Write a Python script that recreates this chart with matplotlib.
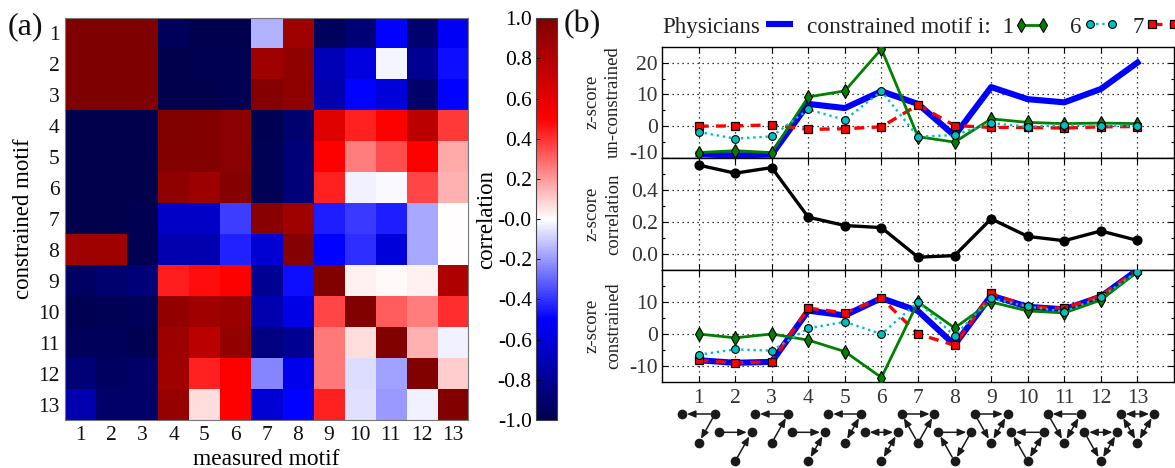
import numpy as np
import matplotlib
matplotlib.use("Agg")
import matplotlib.pyplot as plt
from matplotlib.lines import Line2D
from matplotlib.patches import FancyArrowPatch
from matplotlib.ticker import FixedLocator
from matplotlib.legend_handler import HandlerLine2D
from matplotlib.transforms import ScaledTranslation

plt.rcParams['font.family'] = ['Liberation Serif', 'DejaVu Serif']
plt.rcParams['axes.unicode_minus'] = False

W, H = 1175, 468

motifs = list(range(1, 14))

corr = [
    [1, 1, 1, -.96, -.99, -.99, -.15, .87, -.95, -.88, -.5, -.9, -.52],
    [1, 1, 1, -1, -.98, -.98, .87, .93, -.7, -.58, -.02, -.8, -.47],
    [1, 1, 1, -1, -1, -.98, .97, .93, -.72, -.5, -.6, -.92, -.5],
    [-1, -1, -1, .99, .98, .95, -.98, -.9, .62, .43, .5, .76, .39],
    [-1, -1, -1, .98, .98, .95, -.97, -.87, .5, .25, .35, .5, .17],
    [-1, -1, -1, .93, .88, .97, -.97, -.87, .43, -.03, -.01, .36, .15],
    [-1, -1, -.98, -.65, -.65, -.38, .96, .87, -.44, -.39, -.44, -.17, 0],
    [.87, .87, -.98, -.72, -.72, -.43, -.62, .97, -.5, -.41, -.6, -.17, 0],
    [-.93, -.9, -.87, .44, .47, .5, -.8, -.47, .99, .03, .01, .03, .81],
    [-.98, -.97, -.96, .92, .86, .89, -.72, -.57, .36, .99, .32, .25, .41],
    [-.96, -.96, -.98, .88, .76, .92, -.85, -.8, .26, .07, .99, .15, -.03],
    [-.88, -.94, -.92, .87, .43, .5, -.24, -.55, .26, -.07, -.18, .99, .1],
    [-.72, -.92, -.92, .9, .07, .5, -.62, -.5, .43, -.06, -.2, -.03, .98],
]

top_physicians = [-8.8, -9.2, -8.9, 7, 5.7, 11, 7, -3, 12.3, 8.5, 7.5, 11.7, 20]
top_motif1 = [-8.3, -7.7, -8.3, 9.2, 11.1, 24.3, -3.3, -5, 2.3, 1.2, .8, 1, .8]
top_motif6 = [-1.8, -3.9, -3.2, 5.3, 2, 11, -3.3, -2.8, 1, -.2, .4, .2, .1]
top_motif7 = [0, .1, .4, -1, -.8, -.2, 6.7, .2, -.4, -.4, -.6, -.2, -.1]

mid_corr = [.556, .505, .54, .23, .178, .165, -.02, -.01, .22, .11, .083, .144, .085]

bot_physicians = [-8.2, -9, -8.7, 7.3, 5.8, 11.2, 7.2, -3.4, 12, 8.5, 7.7, 11.7, 20]
bot_motif1 = [0, -1.2, 0, -1.9, -5.5, -13.6, 10, 1.9, 10, 7.2, 6.6, 10.6, 19.5]
bot_motif6 = [-6.5, -4.8, -5.2, 1.8, 3.8, 0, 10, -.6, 11.2, 8.6, 7, 11.5, 19.5]
bot_motif7 = [-8.2, -9, -8.7, 8.1, 6.6, 11.2, 0, -3.5, 12.7, 8.5, 8, 12, 20]

# motif edges: A top-left, B top-right, C bottom; '>' one way, '<>' both ways
motif_edges = {
    1: [('B', 'A', '>'), ('B', 'C', '>')],
    2: [('A', 'B', '>'), ('C', 'B', '>')],
    3: [('B', 'A', '>'), ('C', 'B', '>')],
    4: [('A', 'B', '>'), ('B', 'C', '<>')],
    5: [('B', 'A', '>'), ('B', 'C', '<>')],
    6: [('A', 'B', '<>'), ('B', 'C', '<>')],
    7: [('A', 'B', '>'), ('C', 'A', '>'), ('C', 'B', '>')],
    8: [('A', 'B', '>'), ('C', 'A', '>'), ('B', 'C', '>')],
    9: [('A', 'B', '>'), ('A', 'C', '>'), ('B', 'C', '<>')],
    10: [('B', 'A', '>'), ('C', 'A', '>'), ('B', 'C', '<>')],
    11: [('B', 'A', '>'), ('A', 'C', '>'), ('B', 'C', '<>')],
    12: [('A', 'B', '<>'), ('A', 'C', '>'), ('B', 'C', '<>')],
    13: [('A', 'B', '<>'), ('A', 'C', '<>'), ('B', 'C', '<>')],
}


def box(x0, y0, x1, y1):
    return [x0 / W, 1 - y1 / H, (x1 - x0) / W, (y1 - y0) / H]


fig = plt.figure(figsize=(W / 100, H / 100), dpi=100)

# ---------- (a) heat map ----------
ax = fig.add_axes(box(65, 17.7, 468, 420))
im = ax.imshow(np.array(corr), cmap='seismic', vmin=-1, vmax=1, aspect='auto',
               interpolation='nearest')
ax.set_xticks(range(13), [str(m) for m in motifs])
ax.set_yticks(range(13), [str(m) for m in motifs])
ax.tick_params(length=0, labelsize=15.5, pad=4, colors='#111111')
ax.set_xlabel('measured motif', fontsize=16.8, labelpad=3)
ax.set_ylabel('constrained motif', fontsize=16.5)
ax.yaxis.set_label_coords((34 - 65) / 403, 0.5)
for s in ax.spines.values():
    s.set_color('#777777')
    s.set_linewidth(0.8)

cax = fig.add_axes(box(536, 18.3, 556.5, 420))
cb = fig.colorbar(im, cax=cax, ticklocation='left')
cb.set_ticks(np.arange(-1, 1.01, 0.2), labels=[f'{v:.1f}' for v in np.arange(-1, 1.01, 0.2)])
cb.ax.tick_params(direction='in', length=3, width=0.7, labelsize=15.5, pad=3)
cb.outline.set_linewidth(0.8)
cb.outline.set_edgecolor('#444444')
cb.set_label('correlation', fontsize=16.5)
cb.ax.yaxis.set_label_coords((497 - 536) / 20.5, 0.5)

fig.text(8 / W, 1 - 27 / H, '(a)', fontsize=23, va='center', ha='left', color='#111111')
fig.text(564 / W, 1 - 25 / H, '(b)', fontsize=23, va='center', ha='left', color='#111111')

# ---------- (b) panels ----------
LEFT, RIGHT = 662, 1174
a1 = fig.add_axes(box(LEFT, 46.7, RIGHT, 158))
a2 = fig.add_axes(box(LEFT, 158, RIGHT, 270))
a3 = fig.add_axes(box(LEFT, 270, RIGHT, 382))

BLUE = dict(color='#0000ff', lw=4.4, zorder=3)
GREEN = dict(color='#008000', lw=2.0, marker='d', ms=7.5, mfc='#008000', mec='k', mew=0.8, zorder=5)
CYAN = dict(color='#00bfbf', lw=1.7, ls=(0, (1, 1.6)), marker='o', ms=5.6, mfc='#00bfbf', mec='k', mew=0.8, zorder=6)
RED = dict(color='#ff0000', lw=2.4, ls=(0, (3, 2.2)), marker='s', ms=5.5, mfc='#ff0000', mec='k', mew=0.9, zorder=4)

a1.plot(motifs, top_physicians, **BLUE)
a1.plot(motifs, top_motif7, **RED)
a1.plot(motifs, top_motif1, **GREEN)
a1.plot(motifs, top_motif6, **CYAN)

a2.plot(motifs, mid_corr, color='k', lw=2.4, marker='o', ms=6.3, zorder=3)

a3.plot(motifs, bot_physicians, **BLUE)
a3.plot(motifs, bot_motif7, **RED)
a3.plot(motifs, bot_motif1, **GREEN)
a3.plot(motifs, bot_motif6, **CYAN)

cfg = [
    (a1, (-10, 25), [-10, 0, 10, 20], [-5, 5, 15], '{:.0f}', 'z-score\nun-constrained'),
    (a2, (-0.1, 0.6), [0, .2, .4], [.1, .3, .5], '{:.1f}', 'z-score\ncorrelation'),
    (a3, (-15, 20), [-10, 0, 10], [-5, 5, 15], '{:.0f}', 'z-score\nconstrained'),
]
for a, yl, maj, mnr, fmt, lab in cfg:
    a.set_xlim(0, 14)
    a.set_ylim(*yl)
    a.set_xticks(motifs)
    a.set_yticks(maj, [fmt.format(v) for v in maj])
    a.yaxis.set_minor_locator(FixedLocator(mnr))
    a.grid(True, which='major', color='k', ls=(0, (1, 3)), lw=0.9)
    a.set_axisbelow(True)
    a.tick_params(axis='both', which='major', direction='in', length=4, width=0.8,
                  top=True, right=True, labelsize=15.5, pad=5, labelcolor='#333333')
    a.tick_params(axis='y', which='major', pad=3)
    a.tick_params(axis='y', which='minor', direction='in', length=2.5, width=0.8, right=True, left=True)
    a.set_ylabel(lab, fontsize=13.5, linespacing=1.35, color='#222222')
    a.yaxis.set_label_coords((622 - LEFT) / (RIGHT - LEFT), 0.5)
    for s in a.spines.values():
        s.set_linewidth(1.0)
a1.tick_params(labelbottom=False)
a2.tick_params(labelbottom=False)
low_label = a1.get_yticklabels()[0]
low_label.set_transform(low_label.get_transform() + ScaledTranslation(0, 6 / 100, fig.dpi_scale_trans))


# ---------- legend ----------
def key(handle, label, x_px, size=16.5, pad=0.28):
    leg = fig.legend(handles=[handle], labels=[label], loc='center left',
                     bbox_to_anchor=(x_px / W, 1 - 27 / H), frameon=False, markerfirst=False,
                     fontsize=size, handlelength=1.15, handletextpad=pad, borderpad=0,
                     borderaxespad=0, numpoints=2,
                     handler_map={Line2D: HandlerLine2D(marker_pad=0.1, numpoints=2)})
    leg.get_texts()[0].set_color('#222222')


key(Line2D([], [], **BLUE), 'Physicians', 662)
key(Line2D([], [], **GREEN), 'constrained motif i:  1', 807, size=16.8, pad=0.2)
key(Line2D([], [], **CYAN), '6', 1070)
key(Line2D([], [], **RED), '7', 1132)

# ---------- motif sketches ----------
am = fig.add_axes(box(LEFT, 400, RIGHT, 468))
am.set_xlim(0, 14)
am.set_ylim(68, 0)
am.axis('off')
NODE = {'A': (-0.45, 14), 'B': (0.45, 14), 'C': (0.0, 43)}
ROW_SHIFT = 18.3
for m, edges in motif_edges.items():
    dy = ROW_SHIFT if m % 2 == 0 else 0
    used = sorted({n for e in edges for n in e[:2]})
    pos = {n: (m + NODE[n][0], NODE[n][1] + dy) for n in used}
    for n in used:
        am.plot(*pos[n], 'o', color='#1a1a1a', ms=7, mew=0, clip_on=False, zorder=3)
    for s, t, kind in edges:
        head = 'head_length=3.6,head_width=1.5'
        style = f'-|>,{head}' if kind == '>' else f'<|-|>,{head}'
        am.add_patch(FancyArrowPatch(pos[s], pos[t], arrowstyle=style, mutation_scale=1.4,
                                     shrinkA=3.4, shrinkB=3.4, lw=1.1, color='#1a1a1a',
                                     clip_on=False, zorder=2))

fig.savefig('out.png', dpi=100)
